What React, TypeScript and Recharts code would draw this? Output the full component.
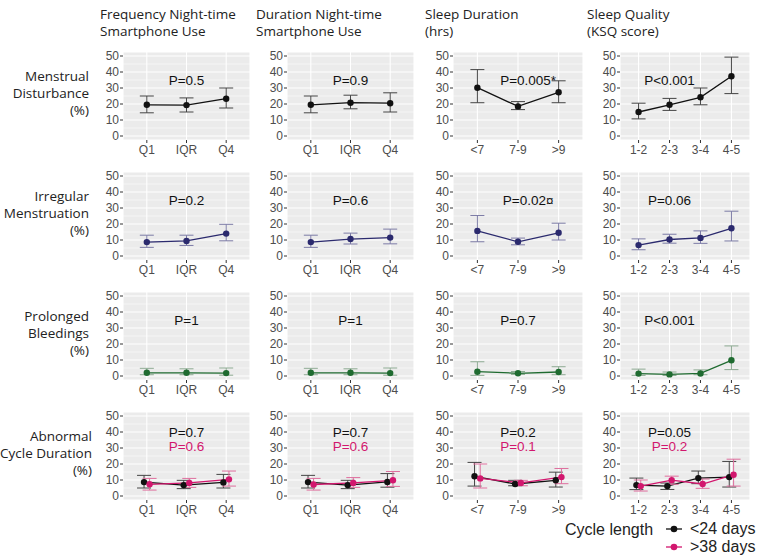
import { LineChart, Line, XAxis, YAxis, CartesianGrid, ErrorBar, ReferenceDot } from 'recharts'

/* ---------- categories & ticks ---------- */

const quartiles = ['Q1', 'IQR', 'Q4']
const sleepHours = ['<7', '7-9', '>9']
const ksqScores = ['1-2', '2-3', '3-4', '4-5']
const yTicks = [0, 10, 20, 30, 40, 50]
const minorTicks = [5, 15, 25, 35, 45]

const colHeaders = [
  ['Frequency Night-time', 'Smartphone Use'],
  ['Duration Night-time', 'Smartphone Use'],
  ['Sleep Duration', '(hrs)'],
  ['Sleep Quality', '(KSQ score)'],
]
const rowLabels = [
  ['Menstrual', 'Disturbance', '(%)'],
  ['Irregular', 'Menstruation', '(%)'],
  ['Prolonged', 'Bleedings', '(%)'],
  ['Abnormal', 'Cycle Duration', '(%)'],
]

/* ---------- values: [estimate, lower CI, upper CI] ---------- */

const mdFreq = [[19.5, 14.5, 25], [19.3, 15, 23.8], [23.3, 17.5, 30]]
const mdDur = [[19.5, 14.5, 25], [20.8, 17, 25.5], [20.5, 15, 27]]
const mdSleepDur = [[30.2, 20.8, 41.5], [18.5, 16.5, 21.5], [27.3, 20.8, 34.5]]
const mdSleepQual = [[15, 10.7, 20.5], [19.5, 16, 23.5], [24.2, 19.5, 30], [37.3, 26.5, 49.3]]

const imFreq = [[8.7, 5.4, 13], [9.4, 6.6, 13], [14, 9.5, 19.8]]
const imDur = [[8.7, 5.4, 13], [10.6, 7.5, 14.3], [11.5, 7.6, 16.8]]
const imSleepDur = [[15.7, 8.9, 25.3], [8.9, 7, 11.2], [14.5, 10, 20.5]]
const imSleepQual = [[6.8, 3.9, 10.7], [10.3, 8, 13.6], [11.3, 7.9, 15.7], [17.3, 9.4, 28]]

const pbFreq = [[2, 0.8, 4.8], [2, 0.8, 4.5], [1.8, 0.5, 5]]
const pbDur = [[2, 0.8, 4.8], [2, 0.8, 4.5], [1.8, 0.5, 5]]
const pbSleepDur = [[2.7, 0.4, 8.9], [1.7, 1, 2.8], [2.5, 0.8, 5.8]]
const pbSleepQual = [[1.5, 0.4, 4.3], [1, 0.3, 2.5], [1.6, 0.8, 3.8], [9.8, 4, 18.8]]

const acFreqShort = [[8.7, 5, 12.9], [6.8, 4.6, 9.8], [8.5, 5, 13.5]]
const acFreqLong = [[7.3, 3.7, 11], [8.2, 5.4, 11], [10.4, 6.2, 15.6]]
const acDurShort = [[8.7, 5, 12.9], [6.8, 4.6, 9.8], [8.8, 5.5, 14]]
const acDurLong = [[7.2, 3.7, 11], [8.2, 5.4, 11.5], [9.8, 6, 15.3]]
const acSleepDurShort = [[12.3, 6.2, 21], [7.5, 6.4, 9.8], [9.8, 5.6, 14.9]]
const acSleepDurLong = [[11, 5, 20], [8.2, 6.4, 9.8], [11.8, 7.7, 17.2]]
const acSleepQualShort = [[6.8, 4, 11.2], [6.2, 4.1, 8.1], [11.2, 7.7, 15.6], [11.8, 5.6, 21.6]]
const acSleepQualLong = [[6.2, 3.1, 10], [9.9, 7.3, 12.4], [7.5, 4.8, 10.6], [13.3, 6.2, 23]]

/* ---------- p-values ---------- */

const pMd = ['P=0.5', 'P=0.9', 'P=0.005*', 'P<0.001']
const pIm = ['P=0.2', 'P=0.6', 'P=0.02¤', 'P=0.06']
const pPb = ['P=1', 'P=1', 'P=0.7', 'P<0.001']
const pAcShort = ['P=0.7', 'P=0.7', 'P=0.2', 'P=0.05']
const pAcLong = ['P=0.6', 'P=0.6', 'P=0.1', 'P=0.2']

/* ---------- styling ---------- */

const BLACK = { line: '#111111', err: '#454545' }
const NAVY = { line: '#2B2A6E', err: '#7C7BA6' }
const GREEN = { line: '#1F6B30', err: '#8DAA92' }
const PINK = { line: '#D2176E', err: '#DE6E9D' }

const colLeft = [123, 287, 453, 620]
const colWidth = [127, 127, 130, 130]
const rowTop = [52, 172, 292, 412]
const PANEL_H = 88
const Y_AXIS_W = 30
const X_AXIS_H = 22
const TOP_PAD = 8

const TICK_FONT = '"Liberation Sans", Arial, sans-serif'
const TEXT_FONT = '"Open Sans", Lato, sans-serif'

type Series = { key: string; rows: number[][]; color: { line: string; err: string }; dodge: number }
type Note = { text: string; color: string; x: number; y: number }

function toData(rows: number[][], dodge: number) {
  return rows.map(([v, lo, hi], i) => ({ x: i + 1 + dodge, y: v, err: [v - lo, hi - v] }))
}

function Panel({ left, top, width, cats, series, notes }: {
  left: number; top: number; width: number; cats: string[]; series: Series[]; notes: Note[]
}) {
  const n = cats.length
  return (
    <div style={{ position: 'absolute', left: left - Y_AXIS_W, top: top - TOP_PAD }}>
      <LineChart width={width + Y_AXIS_W} height={PANEL_H + X_AXIS_H + TOP_PAD} margin={{ top: TOP_PAD, right: 0, bottom: 0, left: 0 }}>
        <CartesianGrid fill="#EBEBEB" stroke="#FFFFFF" strokeWidth={0.5} vertical={false} horizontalValues={minorTicks} />
        <CartesianGrid stroke="#FFFFFF" strokeWidth={1.1} />
        <XAxis
          type="number"
          dataKey="x"
          domain={[0.4, n + 0.6]}
          ticks={cats.map((_, i) => i + 1)}
          tickFormatter={(v: number) => cats[Math.round(v) - 1]}
          interval={0}
          allowDataOverflow
          axisLine={false}
          tickLine={{ stroke: '#333' }}
          tickSize={3}
          tickMargin={2}
          height={X_AXIS_H}
          tick={{ fontSize: 12, fill: '#4D4D4D', fontFamily: TICK_FONT }}
        />
        <YAxis
          type="number"
          domain={[-2.5, 52.5]}
          ticks={yTicks}
          interval={0}
          allowDataOverflow
          axisLine={false}
          tickLine={{ stroke: '#333' }}
          tickSize={3}
          tickMargin={1}
          width={Y_AXIS_W}
          tick={{ fontSize: 12, fill: '#4D4D4D', fontFamily: TICK_FONT }}
        />
        {series.map((s) => (
          <Line
            key={s.key}
            data={toData(s.rows, s.dodge)}
            dataKey="y"
            stroke={s.color.line}
            strokeWidth={1.3}
            dot={{ r: 3.2, fill: s.color.line, stroke: s.color.line, strokeWidth: 0 }}
            activeDot={false}
            isAnimationActive={false}
          >
            <ErrorBar dataKey="err" width={7} stroke={s.color.err} strokeWidth={1} direction="y" />
          </Line>
        ))}
        {notes.map((nt) => (
          <ReferenceDot
            key={nt.text + nt.y}
            x={nt.x}
            y={nt.y}
            r={0}
            ifOverflow="visible"
            shape={(p: any) => (
              <text
                x={p.cx}
                y={p.cy}
                textAnchor="middle"
                dominantBaseline="central"
                fontSize={13.5}
                fill={nt.color}
                fontFamily={TICK_FONT}
              >
                {nt.text}
              </text>
            )}
          />
        ))}
      </LineChart>
    </div>
  )
}

const catsByCol = [quartiles, quartiles, sleepHours, ksqScores]

export default function App() {
  const single = (rowsByCol: number[][][], color: { line: string; err: string }, pv: string[]) =>
    rowsByCol.map((rows, c) => ({
      series: [{ key: 'a', rows, color, dodge: 0 }],
      notes: [{ text: pv[c], color: '#111', x: c === 2 && pv[c].length > 6 ? 2.25 : 2, y: 35 }],
    }))

  const grid = [
    single([mdFreq, mdDur, mdSleepDur, mdSleepQual], BLACK, pMd),
    single([imFreq, imDur, imSleepDur, imSleepQual], NAVY, pIm),
    single([pbFreq, pbDur, pbSleepDur, pbSleepQual], GREEN, pPb),
    [
      [acFreqShort, acFreqLong],
      [acDurShort, acDurLong],
      [acSleepDurShort, acSleepDurLong],
      [acSleepQualShort, acSleepQualLong],
    ].map(([shortRows, longRows], c) => ({
      series: [
        { key: 'short', rows: shortRows, color: BLACK, dodge: -0.07 },
        { key: 'long', rows: longRows, color: PINK, dodge: 0.07 },
      ],
      notes: [
        { text: pAcShort[c], color: '#111', x: 2, y: 39.5 },
        { text: pAcLong[c], color: PINK.line, x: 2, y: 31 },
      ],
    })),
  ]

  return (
    <div style={{ position: 'absolute', left: 0, top: 0, width: 760, height: 556, background: '#fff', color: '#222', fontFamily: TEXT_FONT }}>
      {colHeaders.map((lines, c) => (
        <div key={c} style={{ position: 'absolute', left: colLeft[c] - 23 + (c === 1 ? -8 : c === 2 ? -5 : c === 3 ? -10 : 0), top: 6, fontSize: 13.5, lineHeight: '17px', whiteSpace: 'nowrap' }}>
          {lines.map((l) => <div key={l}>{l}</div>)}
        </div>
      ))}

      {rowLabels.map((lines, r) => (
        <div key={r} style={{ position: 'absolute', right: 760 - (r === 3 ? 92 : 89), top: rowTop[r] + 16, fontSize: 13.5, lineHeight: '17px', textAlign: 'right', whiteSpace: 'nowrap' }}>
          {lines.map((l) => <div key={l}>{l}</div>)}
        </div>
      ))}

      {grid.map((row, r) =>
        row.map((cell, c) => (
          <Panel
            key={`${r}-${c}`}
            left={colLeft[c]}
            top={rowTop[r]}
            width={colWidth[c]}
            cats={catsByCol[c]}
            series={cell.series}
            notes={cell.notes}
          />
        )),
      )}

      {/* legend */}
      <div style={{ position: 'absolute', left: 565, top: 521, fontSize: 16, fontFamily: TICK_FONT, color: '#222' }}>Cycle length</div>
      {[
        { label: '<24 days', color: BLACK.line, y: 529 },
        { label: '>38 days', color: PINK.line, y: 547 },
      ].map((it) => (
        <div key={it.label} style={{ position: 'absolute', left: 664, top: it.y - 10, height: 20, display: 'flex', alignItems: 'center', fontFamily: TICK_FONT, fontSize: 16, color: '#222' }}>
          <svg width={20} height={20}>
            <line x1={2} y1={10} x2={18} y2={10} stroke={it.color} strokeWidth={1.3} />
            <circle cx={10} cy={10} r={3.3} fill={it.color} />
          </svg>
          <span style={{ marginLeft: 6 }}>{it.label}</span>
        </div>
      ))}
    </div>
  )
}
